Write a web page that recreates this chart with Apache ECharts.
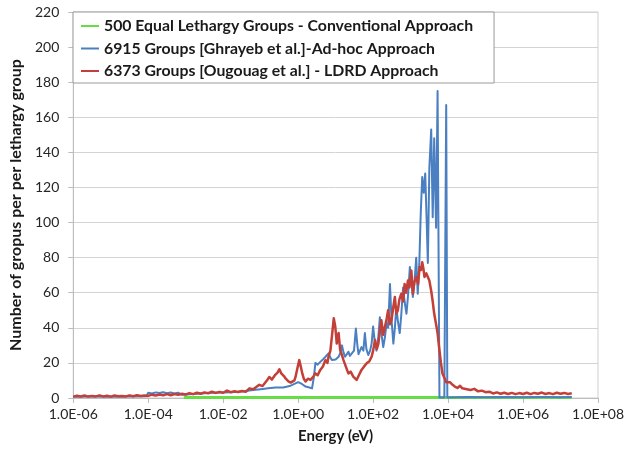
<!DOCTYPE html>
<html>
<head>
<meta charset="utf-8">
<script src="https://cdn.jsdelivr.net/npm/echarts@6/dist/echarts.min.js"></script>
<style>
  html, body { margin: 0; padding: 0; background: #fff; }
  #chart { width: 627px; height: 454px; }
</style>
</head>
<body>
<div id="chart"></div>
<script>
// Energy is stored as log10(E / eV); the x axis is a linear scale over those exponents.
const xTickLabels = ['1.0E-06', '1.0E-04', '1.0E-02', '1.0E+00', '1.0E+02', '1.0E+04', '1.0E+06', '1.0E+08'];
const xMinExp = -6, xMaxExp = 8, xStepExp = 2;
const yTicks = { min: 0, max: 220, step: 20 };

const seriesNames = [
  '500 Equal Lethargy Groups - Conventional Approach',
  '6915 Groups [Ghrayeb et al.]-Ad-hoc Approach',
  '6373 Groups [Ougouag et al.] - LDRD Approach'
];

// [log10(E), groups per lethargy]
const conventionalPts = [[-3.05, 0.3], [7.3, 0.3]];

const adhocPts = [
  [-6.0, 0.7], [-5.5, 0.8], [-5.0, 0.7], [-4.5, 0.9], [-4.05, 1.0],
  [-4.0, 3.0], [-3.9, 2.6], [-3.8, 3.2], [-3.7, 2.8], [-3.6, 3.3], [-3.5, 2.7],
  [-3.4, 3.1], [-3.3, 2.6], [-3.2, 3.0], [-3.1, 1.8], [-3.0, 2.0], [-2.8, 2.3],
  [-2.6, 2.6], [-2.4, 2.8], [-2.2, 3.0], [-2.0, 3.2], [-1.8, 3.3], [-1.6, 3.5],
  [-1.4, 4.0], [-1.2, 4.5], [-1.0, 5.0], [-0.8, 5.5], [-0.6, 6.0], [-0.4, 6.0],
  [-0.2, 7.0], [0.0, 9.0], [0.1, 8.0], [0.2, 6.5], [0.3, 6.0], [0.37, 5.5],
  [0.42, 12], [0.46, 20], [0.52, 19], [0.59, 20.6], [0.66, 22], [0.73, 23.5],
  [0.81, 25.4], [0.86, 23], [0.9, 21.6], [1.0, 22], [1.08, 23.5], [1.13, 26],
  [1.17, 30], [1.21, 26], [1.25, 23.5], [1.3, 25], [1.34, 26.4], [1.38, 24],
  [1.43, 25], [1.49, 27], [1.54, 39.6], [1.58, 30], [1.61, 25], [1.65, 26],
  [1.69, 29], [1.74, 27], [1.78, 37], [1.82, 28], [1.87, 24.5], [1.92, 27],
  [1.96, 31], [2.0, 40.7], [2.04, 33], [2.09, 27], [2.14, 35], [2.18, 46],
  [2.22, 37], [2.27, 29], [2.31, 34], [2.36, 42.6], [2.4, 40], [2.45, 65],
  [2.49, 45], [2.54, 31], [2.58, 40], [2.62, 52], [2.66, 44], [2.71, 37],
  [2.75, 47], [2.8, 63], [2.84, 55], [2.89, 48], [2.93, 58], [2.98, 74.6],
  [3.02, 68], [3.06, 57.6], [3.1, 65], [3.15, 80], [3.19, 59.4], [3.23, 75],
  [3.27, 105], [3.31, 126], [3.35, 117], [3.39, 128], [3.43, 100], [3.46, 77],
  [3.5, 131], [3.55, 153], [3.59, 103], [3.63, 148], [3.68, 97], [3.72, 175],
  [3.77, 0.3], [3.9, 0.3], [3.95, 167], [3.98, 0.3],
  [4.5, 0.5], [5.0, 0.4], [5.5, 0.6], [6.0, 0.4], [6.5, 0.5], [7.0, 0.4], [7.3, 0.5]
];

const ldrdPts = [
  [-6.0, 0.8], [-5.9, 1.3], [-5.8, 0.9], [-5.7, 1.4], [-5.6, 0.8], [-5.5, 1.2],
  [-5.4, 0.9], [-5.3, 1.5], [-5.2, 0.9], [-5.1, 1.3], [-5.0, 0.8], [-4.9, 1.4],
  [-4.8, 1.0], [-4.7, 1.2], [-4.6, 0.9], [-4.5, 1.5], [-4.4, 1.0], [-4.3, 1.6],
  [-4.2, 1.1], [-4.1, 1.4], [-4.0, 1.2], [-3.9, 1.9], [-3.8, 1.4], [-3.7, 2.0],
  [-3.6, 1.5], [-3.5, 2.2], [-3.4, 1.6], [-3.3, 2.3], [-3.2, 1.8], [-3.1, 2.4],
  [-3.0, 2.0], [-2.9, 2.8], [-2.8, 2.2], [-2.7, 3.0], [-2.6, 2.4], [-2.5, 3.2],
  [-2.4, 2.7], [-2.3, 3.6], [-2.2, 2.9], [-2.1, 3.5], [-2.0, 3.0], [-1.9, 4.2],
  [-1.8, 3.3], [-1.7, 3.8], [-1.6, 3.4], [-1.5, 4.0], [-1.4, 3.5], [-1.3, 5.5],
  [-1.2, 5.0], [-1.1, 6.5], [-1.035, 7.5], [-0.95, 6.8], [-0.85, 9.5], [-0.77, 12],
  [-0.7, 10.5], [-0.62, 13], [-0.55, 14.5], [-0.5, 16.4], [-0.45, 14], [-0.38, 12.5],
  [-0.33, 11], [-0.26, 9.5], [-0.2, 8.8], [-0.155, 8.5], [-0.1, 10], [-0.07, 12],
  [-0.02, 17], [0.03, 21.6], [0.07, 18], [0.11, 14], [0.15, 11], [0.2, 9.4],
  [0.26, 11], [0.33, 10.3], [0.4, 12], [0.46, 14], [0.52, 13], [0.59, 16],
  [0.66, 18], [0.73, 21.6], [0.78, 20], [0.81, 23.5], [0.86, 27], [0.9, 35],
  [0.95, 45.4], [0.99, 40.7], [1.03, 31], [1.08, 37], [1.12, 27.4], [1.16, 25],
  [1.21, 21.6], [1.27, 18], [1.34, 14], [1.4, 15], [1.47, 12.2], [1.52, 13],
  [1.56, 10.3], [1.62, 13], [1.69, 16], [1.76, 18], [1.83, 19.8], [1.9, 21],
  [1.96, 23.5], [2.0, 27], [2.05, 33], [2.1, 28], [2.14, 31], [2.18, 38],
  [2.22, 44.3], [2.27, 36], [2.31, 37], [2.36, 45], [2.4, 50], [2.45, 42],
  [2.49, 44.3], [2.54, 52], [2.58, 57.6], [2.62, 48], [2.66, 50], [2.7, 56],
  [2.75, 59.4], [2.8, 55], [2.84, 65], [2.88, 60], [2.93, 67], [2.97, 63],
  [3.02, 72.6], [3.06, 59.4], [3.1, 66], [3.15, 69], [3.2, 65], [3.24, 74.6],
  [3.28, 73], [3.31, 77.4], [3.34, 74], [3.37, 69], [3.42, 71], [3.46, 70],
  [3.5, 67], [3.55, 61], [3.59, 55], [3.63, 48], [3.68, 42], [3.72, 37],
  [3.76, 29], [3.81, 20], [3.85, 14], [3.9, 11.5], [3.95, 9], [3.99, 8.5],
  [4.05, 9], [4.12, 7.5], [4.18, 6.5], [4.25, 5.7], [4.32, 7], [4.38, 5.5],
  [4.43, 6.6], [4.5, 5.0], [4.6, 4.6], [4.7, 5.2], [4.8, 3.8], [4.9, 4.2],
  [5.0, 3.3], [5.1, 3.6], [5.2, 2.6], [5.3, 3.2], [5.4, 2.4], [5.5, 3.0],
  [5.6, 2.3], [5.7, 2.9], [5.8, 2.2], [5.9, 2.8], [6.0, 2.3], [6.1, 3.0],
  [6.2, 2.2], [6.3, 2.9], [6.4, 2.4], [6.5, 3.1], [6.6, 2.3], [6.7, 2.8],
  [6.8, 2.2], [6.9, 3.0], [7.0, 2.4], [7.1, 2.9], [7.2, 2.3], [7.3, 2.7]
];

const colors = ['#66DD44', '#4A7FC1', '#C33F37'];
const font = 'Lato, "Liberation Sans", sans-serif';

const chart = echarts.init(document.getElementById('chart'), null, { renderer: 'canvas' });

function lineSeries(name, data, color, width) {
  return {
    name: name,
    type: 'line',
    data: data,
    symbol: 'none',
    showSymbol: false,
    animation: false,
    lineStyle: { color: color, width: width, join: 'round' },
    itemStyle: { color: color }
  };
}

chart.setOption({
  backgroundColor: '#ffffff',
  animation: false,
  grid: {
    left: 72, right: 25, top: 12, bottom: 56,
    show: true, borderColor: '#cfcfcf', borderWidth: 1
  },
  legend: {
    left: 73, top: 12,
    orient: 'vertical',
    backgroundColor: '#ffffff',
    borderColor: '#9a9a9a', borderWidth: 1, borderRadius: 0,
    padding: [6, 21, 4, 8],
    // thin horizontal stroke as the key sample
    icon: 'path://M0,0H18V2H0Z',
    symbolKeepAspect: true,
    itemWidth: 18, itemHeight: 14, itemGap: 6.5,
    selectedMode: false,
    textStyle: { fontFamily: font, fontWeight: 'bold', fontSize: 15.8, color: '#1a1a1a', lineHeight: 14 },
    data: seriesNames
  },
  xAxis: {
    type: 'value',
    min: xMinExp, max: xMaxExp, interval: xStepExp,
    name: 'Energy (eV)',
    nameLocation: 'middle', nameGap: 31,
    nameTextStyle: { fontFamily: font, fontWeight: 'bold', fontSize: 15, color: '#1a1a1a' },
    axisLine: { show: true, onZero: false, lineStyle: { color: '#bdbdbd', width: 1 } },
    axisTick: { show: true, length: 5, lineStyle: { color: '#bdbdbd' } },
    splitLine: { show: false },
    axisLabel: {
      margin: 9, fontFamily: font, fontSize: 14, color: '#262626',
      formatter: v => xTickLabels[Math.round((v - xMinExp) / xStepExp)]
    }
  },
  yAxis: {
    type: 'value',
    min: yTicks.min, max: yTicks.max, interval: yTicks.step,
    name: 'Number of gropus per per lethargy group',
    nameLocation: 'middle', nameGap: 47,
    nameTextStyle: { fontFamily: font, fontWeight: 'bold', fontSize: 16, color: '#1a1a1a' },
    axisLine: { show: true, onZero: false, lineStyle: { color: '#bdbdbd', width: 1 } },
    axisTick: { show: true, length: 5, lineStyle: { color: '#bdbdbd' } },
    splitLine: { show: true, lineStyle: { color: '#d4d4d4', width: 1 } },
    axisLabel: { margin: 14, fontFamily: font, fontSize: 14, color: '#262626' }
  },
  series: [
    lineSeries(seriesNames[0], conventionalPts, colors[0], 3),
    lineSeries(seriesNames[1], adhocPts, colors[1], 2),
    lineSeries(seriesNames[2], ldrdPts, colors[2], 2.5)
  ]
});
</script>
</body>
</html>
